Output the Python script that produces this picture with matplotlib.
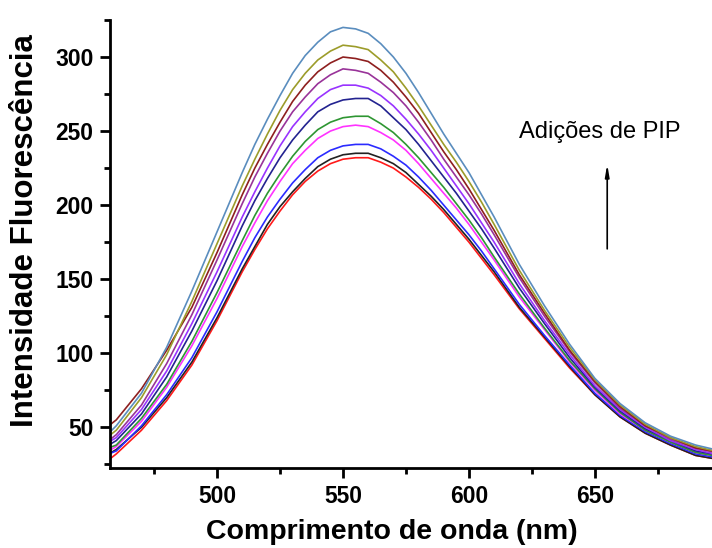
import matplotlib
matplotlib.use("Agg")
import matplotlib.pyplot as plt
from matplotlib.ticker import MultipleLocator

plt.rcParams['font.family'] = ['Liberation Sans', 'DejaVu Sans']

wavelength = [457, 460, 470, 480, 490, 500,
              510, 515, 520, 525, 530, 535, 540, 545, 550, 555, 560, 565, 570, 575,
              580, 585, 590, 595, 600, 605, 610,
              620, 630, 640, 650, 660, 670, 680, 690, 700]

red     = [28, 32, 48, 68, 92, 122, 155, 170, 184, 196, 207, 216, 223, 228, 231, 232, 232, 229, 225, 219, 212, 204, 195, 185, 175, 164, 153, 130, 110, 90, 72, 57, 46, 38, 31, 28]
black   = [32, 35, 50, 70, 94, 124, 157, 172, 187, 199, 209, 218, 226, 231, 234, 235, 235, 232, 228, 222, 214, 206, 197, 187, 177, 166, 155, 131, 111, 91, 72, 57, 46, 38, 31, 28]
blue    = [32, 34, 51, 72, 97, 128, 162, 178, 192, 204, 215, 224, 232, 237, 240, 241, 241, 238, 233, 227, 219, 210, 200, 190, 180, 169, 157, 133, 112, 92, 73, 58, 47, 39, 32, 29]
magenta = [34, 37, 54, 77, 105, 137, 172, 188, 203, 216, 228, 237, 245, 250, 253, 254, 253, 249, 244, 237, 228, 218, 208, 198, 187, 175, 163, 138, 116, 94, 75, 59, 48, 40, 33, 30]
green   = [36, 38, 56, 79, 108, 141, 176, 193, 208, 221, 233, 243, 251, 256, 259, 260, 260, 255, 249, 241, 232, 222, 212, 201, 190, 178, 165, 140, 117, 95, 76, 60, 48, 40, 33, 30]
navy    = [38, 41, 59, 84, 115, 149, 186, 203, 218, 232, 244, 254, 263, 268, 271, 272, 272, 267, 259, 251, 241, 230, 219, 208, 196, 184, 171, 144, 120, 97, 77, 61, 49, 41, 34, 31]
violet  = [40, 43, 62, 88, 120, 155, 192, 209, 225, 240, 253, 263, 272, 278, 281, 281, 279, 274, 267, 258, 248, 237, 225, 213, 201, 188, 175, 147, 122, 99, 78, 62, 50, 41, 35, 31]
purple  = [41, 45, 65, 93, 126, 163, 201, 219, 235, 250, 263, 273, 282, 288, 292, 291, 289, 283, 276, 267, 256, 244, 231, 219, 207, 194, 180, 151, 125, 101, 80, 63, 51, 42, 36, 32]
wine    = [51, 55, 76, 102, 131, 168, 207, 225, 241, 256, 270, 281, 290, 296, 300, 299, 297, 291, 283, 273, 262, 249, 236, 224, 211, 197, 183, 153, 127, 102, 81, 64, 51, 43, 36, 33]
olive   = [44, 48, 70, 99, 135, 174, 213, 231, 248, 264, 278, 289, 298, 304, 308, 307, 305, 298, 290, 279, 267, 254, 241, 229, 216, 202, 187, 156, 129, 104, 82, 65, 52, 43, 37, 33]
steel   = [46, 51, 73, 104, 142, 182, 222, 241, 258, 274, 289, 301, 310, 317, 320, 319, 316, 309, 300, 289, 276, 262, 248, 235, 222, 207, 192, 160, 132, 106, 83, 66, 53, 44, 38, 34]

series = [
    (red, '#FF1A1A'),
    (black, '#222222'),
    (blue, '#2B2BFF'),
    (magenta, '#FF33FF'),
    (green, '#2E9632'),
    (navy, '#232390'),
    (violet, '#9933FF'),
    (purple, '#993399'),
    (wine, '#8E1F1F'),
    (olive, '#9C9C2A'),
    (steel, '#5A8DBE'),
]

fig = plt.figure(figsize=(7.12, 5.48), dpi=100)
ax = fig.add_axes([0.1545, 0.146, 0.8455, 0.8175])

for vals, col in series:
    ax.plot(wavelength, vals, color=col, lw=1.2)

ax.set_xlim(457.5, 696.5)
ax.set_ylim(22.5, 325)
ax.xaxis.set_major_locator(MultipleLocator(50))
ax.xaxis.set_minor_locator(MultipleLocator(25))
ax.yaxis.set_major_locator(MultipleLocator(50))
ax.yaxis.set_minor_locator(MultipleLocator(25))

for s in ['top', 'right']:
    ax.spines[s].set_visible(False)
for s in ['left', 'bottom']:
    ax.spines[s].set_linewidth(2)

ax.tick_params(which='major', direction='out', length=7, width=2, labelsize=16.5, pad=5)
ax.tick_params(which='minor', direction='out', length=4, width=2)
for lab in ax.get_xticklabels() + ax.get_yticklabels():
    lab.set_fontweight('bold')

ax.set_xlabel('Comprimento de onda (nm)', fontsize=20.5, fontweight='bold', va='center')
ax.xaxis.set_label_coords(0.468, -0.143)
ax.set_ylabel('Intensidade Fluorescência', fontsize=22.5, fontweight='bold', va='center')
ax.yaxis.set_label_coords(-0.141, 0.531)

ax.annotate('', xy=(654.9, 229.5), xytext=(654.9, 168.6),
            arrowprops=dict(arrowstyle='-|>,head_length=0.7,head_width=0.12', color='black', lw=1.2))
ax.text(619.8, 245.5, 'Adições de PIP', fontsize=17, ha='left', va='baseline')

fig.savefig('out.png', dpi=100)
